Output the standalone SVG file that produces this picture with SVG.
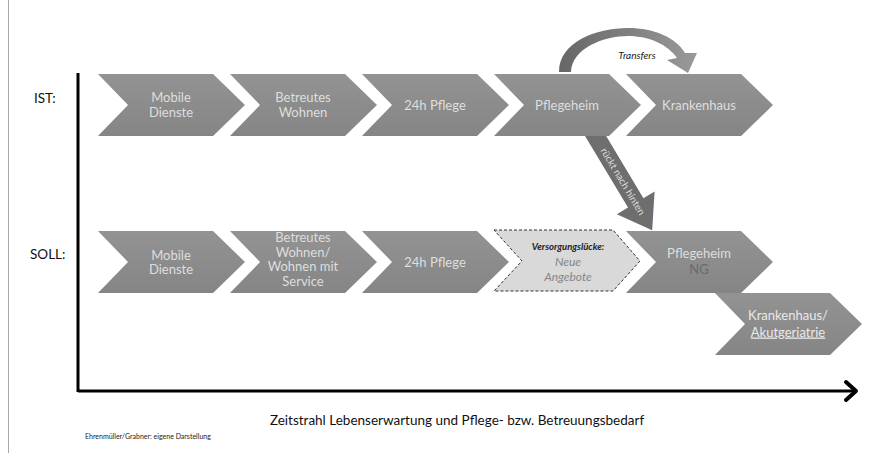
<svg xmlns="http://www.w3.org/2000/svg" width="874" height="453" viewBox="0 0 874 453">
<style>
.lbl{font-family:Lato,"Liberation Sans",sans-serif;font-size:13px;fill:#dedede;text-anchor:middle}
.ax{font-family:Lato,"Liberation Sans",sans-serif;font-size:13.5px;fill:#111}
.chev{fill:url(#gchev)}
</style>
<defs>
<linearGradient id="gchev" x1="0" y1="0" x2="0" y2="1">
<stop offset="0" stop-color="#939393"/>
<stop offset="1" stop-color="#858585"/>
</linearGradient>
<linearGradient id="garc" x1="0" y1="0" x2="1" y2="0">
<stop offset="0" stop-color="#666"/>
<stop offset="1" stop-color="#9a9a9a"/>
</linearGradient>
<polygon id="chev" points="0,0 115,0 147,31 115,62 0,62 30,31"/>
</defs>
<rect width="874" height="453" fill="#fff"/>
<line x1="8.5" y1="0" x2="8.5" y2="453" stroke="#aaa" stroke-width="1"/>

<g id="connectors">
<path d="M559,72 C559,42 596,28 628,28 C655,28 676,38 685,53 L697,53 L688,73 L667,60 L677,58 C668,45 650,36 628,36 C604,36 572,48 571,72 Z" fill="url(#garc)"/>
<g transform="translate(592,130) rotate(59.04)">
<polygon points="0,-9 85,-9 85,-22 117,0 85,22 85,9 0,9" fill="#6e6e6e"/>
<text x="60" y="3.5" text-anchor="middle" font-family="Lato,'Liberation Sans',sans-serif" font-size="10" fill="#dcdcdc">rückt nach hinten</text>
</g>
</g>

<g id="axes">
<line x1="78" y1="73" x2="78" y2="392" stroke="#000" stroke-width="3"/>
<line x1="78" y1="391" x2="854" y2="391" stroke="#000" stroke-width="3"/>
<polyline points="846,382 856,391 846,400" fill="none" stroke="#000" stroke-width="4" stroke-linecap="round" stroke-linejoin="round"/>
</g>

<text class="ax" x="34" y="103">IST:</text>
<text class="ax" x="30" y="259">SOLL:</text>

<g id="ist-mobile"><use href="#chev" x="98" y="74" class="chev"/><text class="lbl" x="171" y="102">Mobile</text><text class="lbl" x="171" y="117">Dienste</text></g>
<g id="ist-betreut"><use href="#chev" x="230" y="74" class="chev"/><text class="lbl" x="303" y="102">Betreutes</text><text class="lbl" x="303" y="117">Wohnen</text></g>
<g id="ist-24h"><use href="#chev" x="362" y="74" class="chev"/><text class="lbl" x="435" y="109.5">24h Pflege</text></g>
<g id="ist-pflegeheim"><use href="#chev" x="494" y="74" class="chev"/><text class="lbl" x="567" y="109.5">Pflegeheim</text></g>
<g id="ist-krankenhaus"><use href="#chev" x="626" y="74" class="chev"/><text class="lbl" x="699" y="109.5">Krankenhaus</text></g>

<g id="soll-mobile"><use href="#chev" x="98" y="231" class="chev"/><text class="lbl" x="171" y="259.5">Mobile</text><text class="lbl" x="171" y="274">Dienste</text></g>
<g id="soll-betreut"><use href="#chev" x="230" y="231" class="chev"/>
<text class="lbl" x="303" y="242" font-size="11.2">Betreutes</text>
<text class="lbl" x="303" y="256.5" font-size="11.2">Wohnen/</text>
<text class="lbl" x="303" y="271" font-size="11.2">Wohnen mit</text>
<text class="lbl" x="303" y="285.5" font-size="11.2">Service</text></g>
<g id="soll-24h"><use href="#chev" x="362" y="231" class="chev"/><text class="lbl" x="435" y="266.5">24h Pflege</text></g>
<g id="soll-luecke">
<polygon points="494,230 613,230 640,261 613,291 494,291 522,261" fill="#d9d9d9" stroke="#333" stroke-width="1" stroke-dasharray="3,2"/>
<text x="568" y="250" text-anchor="middle" font-family="Lato,'Liberation Sans',sans-serif" font-size="9.5" font-style="italic" font-weight="bold" fill="#222">Versorgungslücke:</text>
<text x="568" y="266" text-anchor="middle" font-family="Lato,'Liberation Sans',sans-serif" font-size="12" font-style="italic" fill="#858585">Neue</text>
<text x="568" y="280.5" text-anchor="middle" font-family="Lato,'Liberation Sans',sans-serif" font-size="12" font-style="italic" fill="#858585">Angebote</text>
</g>
<g id="soll-pflegeheim"><use href="#chev" x="626" y="231" class="chev"/><text class="lbl" x="699" y="257.5">Pflegeheim</text><text class="lbl" x="699" y="273.5" style="fill:#6a6a6a">NG</text></g>
<g id="soll-krankenhaus"><use href="#chev" x="715" y="293" class="chev"/><text class="lbl" x="788" y="319.5" style="fill:#eaeaea">Krankenhaus/</text><text class="lbl" x="788" y="336.5" style="fill:#eaeaea" text-decoration="underline">Akutgeriatrie</text></g>

<text x="457" y="425" text-anchor="middle" font-family="Lato,'Liberation Sans',sans-serif" font-size="13.5" fill="#111">Zeitstrahl Lebenserwartung und Pflege- bzw. Betreuungsbedarf</text>
<text x="85" y="439" font-family="Lato,'Liberation Sans',sans-serif" font-size="7" fill="#222">Ehrenmüller/Grabner: eigene Darstellung</text>
<text x="637" y="59" text-anchor="middle" font-family="Lato,'Liberation Sans',sans-serif" font-size="10" font-style="italic" fill="#222">Transfers</text>
</svg>
